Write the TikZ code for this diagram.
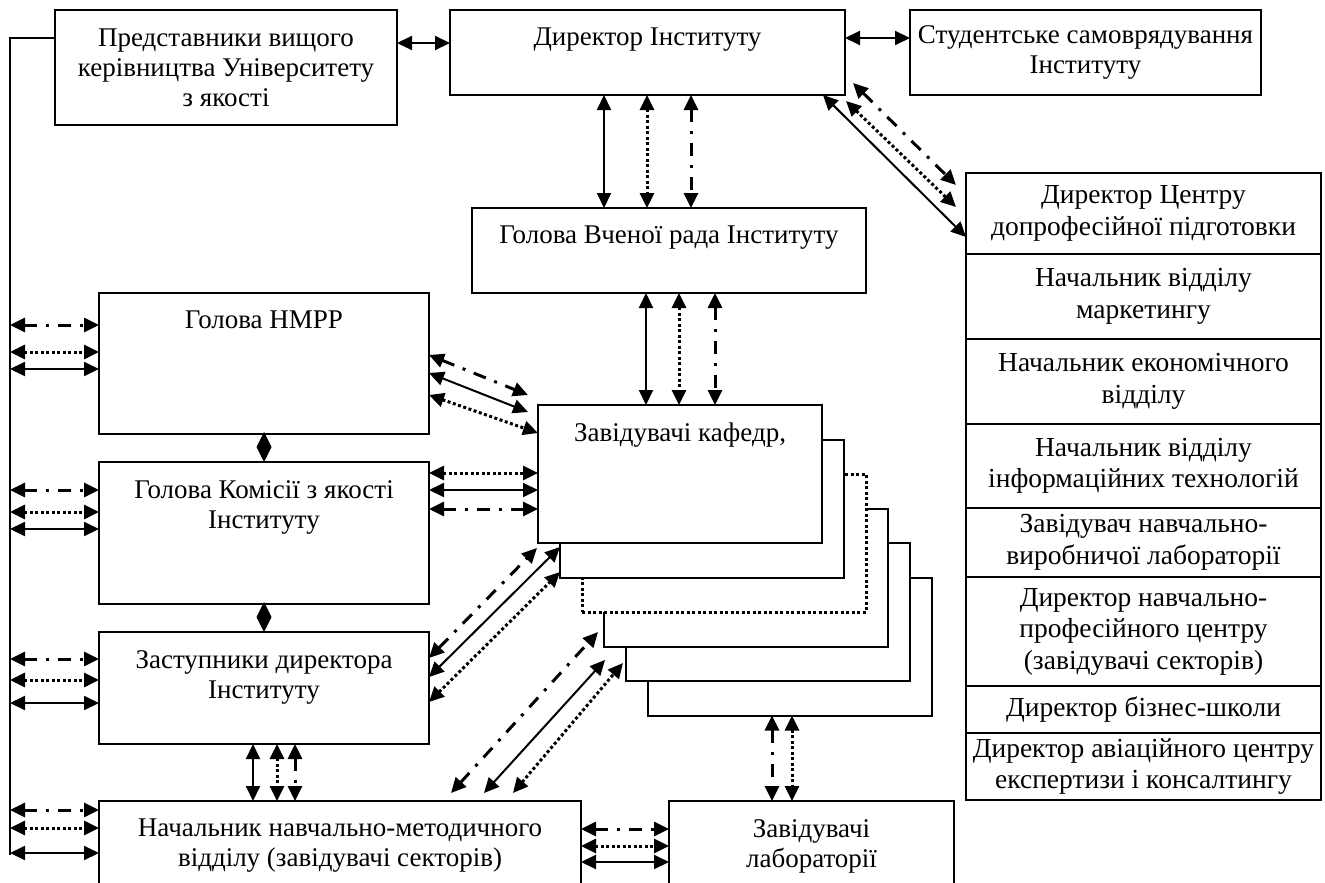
\documentclass[tikz,border=0pt]{standalone}
\usepackage{fontspec}
\setmainfont{Liberation Serif}
\usetikzlibrary{arrows.meta,positioning,calc}

\tikzset{
  box/.style={draw, line width=2pt, anchor=north west, inner sep=0pt, outer sep=0pt, align=center},
  hd/.style={label={[anchor=north, align=center, inner sep=0pt, yshift=-18pt]north:{#1}}},
  row/.style={draw, line width=2pt, minimum width=355pt, minimum height=#1, inner sep=0pt, outer sep=0pt, align=center, font=\fontsize{27.5}{31.5}\selectfont},
  kd/.style={line width=3pt, dash pattern=on 3pt off 2.5pt},
  arr/.style={{Triangle[length=15pt,width=14pt]}-{Triangle[length=15pt,width=14pt]}, line width=2pt},
  sl/.style={arr},
  dt/.style={arr, line width=3pt, dash pattern=on 3pt off 2.5pt},
  dd/.style={arr, line width=3pt, dash pattern=on 13pt off 9pt on 3pt off 9pt},
  dm/.style={-{Diamond[length=30pt,width=15pt]}, line width=1pt}
}

\begin{document}
\begin{tikzpicture}[x=1pt, y=-1pt, font=\fontsize{27}{30}\selectfont]
\useasboundingbox (0,0) rectangle (1325,883);
\clip (0,0) rectangle (1325,883);

\node[box, minimum width=342pt, minimum height=115pt] (pr) at (55,10)
  {Представники вищого\\керівництва Університету\\з якості};
\node[box, minimum width=395pt, minimum height=85pt, hd=Директор Інституту] (dir) at (450,10) {};
\node[box, minimum width=351pt, minimum height=85pt] (st) at (910,10)
  {Студентське самоврядування\\Інституту};
\node[box, minimum width=394pt, minimum height=85pt, hd=Голова Вченої рада Інституту] (gv) at (472,208) {};

\node[box, minimum width=330pt, minimum height=141pt, hd=Голова НМРР] (nm) at (99,293) {};
\node[box, minimum width=330pt, minimum height=142pt, hd={Голова Комісії з якості\\Інституту}] (ko) at (99,462) {};
\node[box, minimum width=330pt, minimum height=112pt, hd={Заступники директора\\Інституту}] (zd) at (99,632) {};
\node[box, minimum width=482pt, minimum height=110pt, hd={Начальник навчально-методичного\\відділу (завідувачі секторів)}] (nv) at (99,801) {};
\node[box, minimum width=285pt, minimum height=110pt, hd={Завідувачі\\лабораторії}] (zl) at (669,801) {};

\foreach \i/\s in {5/solid,4/solid,3/solid,2/kd,1/solid}
  \node[box, fill=white, \s, minimum width=284pt, minimum height=138pt] (k\i) at (538+22*\i,405+34.5*\i) {};
\node[box, fill=white, minimum width=284pt, minimum height=138pt, hd={Завідувачі кафедр,}] (k) at (538,405) {};

\node[row=81pt, anchor=north west] (c1) at (966,173) {Директор Центру\\допрофесійної підготовки};
\node[row=85pt, below=0pt of c1] (c2) {Начальник відділу\\маркетингу};
\node[row=85pt, below=0pt of c2] (c3) {Начальник економічного\\відділу};
\node[row=84pt, below=0pt of c3] (c4) {Начальник відділу\\інформаційних технологій};
\node[row=69pt, below=0pt of c4] (c5) {Завідувач навчально-\\виробничої лабораторії};
\node[row=109pt, below=0pt of c5] (c6) {Директор навчально-\\професійного центру\\(завідувачі секторів)};
\node[row=47pt, below=0pt of c6] (c7) {Директор бізнес-школи};
\node[row=67pt, below=0pt of c7] (c8) {Директор авіаційного центру\\експертизи і консалтингу};

\coordinate (bt) at (10,855);
\draw[line width=2pt] ($(pr.north west)+(0,28)$) -| (bt);

\draw[sl] ($(pr.north east)+(0,33)$) -- ($(dir.north west)+(0,33)$);
\draw[sl] ($(dir.north east)+(0,28)$) -- ($(st.north west)+(0,28)$);

\foreach \b/\p/\q/\r in {nm/32/59/76, ko/28/50/67, zd/27/48/71, nv/9/27/52}{
  \draw[dd] ($(bt |- \b.north west)+(0,\p)$) -- ($(\b.north west)+(0,\p)$);
  \draw[dt] ($(bt |- \b.north west)+(0,\q)$) -- ($(\b.north west)+(0,\q)$);
  \draw[sl] ($(bt |- \b.north west)+(0,\r)$) -- ($(\b.north west)+(0,\r)$);
}

\foreach \s/\o in {sl/154, dt/197, dd/241}
  \draw[\s] ($(dir.south west)+(\o,0)$) -- ($(dir.south west |- gv.north)+(\o,0)$);
\foreach \s/\o in {sl/174, dt/207, dd/243}
  \draw[\s] ($(gv.south west)+(\o,0)$) -- ($(gv.south west |- k.north)+(\o,0)$);

\draw[sl] ($(dir.south east)+(-22,0)$) -- ($(c1.north west)+(0,64)$);
\draw[dt] ($(dir.south east)+(1,6)$) -- ($(c1.north west)+(-10,34)$);
\draw[dd] ($(dir.south east)+(8,-12)$) -- ($(c1.north west)+(-10,12)$);

\draw[dd] ($(nm.north east)+(0,62)$) -- ($(k.north west)+(-10,-10)$);
\draw[sl] ($(nm.north east)+(0,80)$) -- ($(k.north west)+(-10,7)$);
\draw[dt] ($(nm.north east)+(0,102)$) -- ($(k.north west)+(0,28)$);

\draw[dt] ($(ko.north east)+(0,11)$) -- ($(k.north west)+(0,68)$);
\draw[sl] ($(ko.north east)+(0,28)$) -- ($(k.north west)+(0,85)$);
\draw[dd] ($(ko.north east)+(0,47)$) -- ($(k.north west)+(0,104)$);

\draw[dd] ($(zd.north east)+(0,26)$) -- ($(k1.north west)+(-23,108.5)$);
\draw[sl] ($(zd.north east)+(0,45)$) -- ($(k1.north west)+(0,107.5)$);
\draw[dt] ($(zd.north east)+(0,70)$) -- ($(k1.north west)+(0,132.5)$);

\draw[dd] ($(nv.north west)+(352,-8)$) -- ($(k4.north west)+(-28,89)$);
\draw[sl] ($(nv.north west)+(385,-8)$) -- ($(k4.north west)+(-21,117)$);
\draw[dt] ($(nv.north west)+(414,-8)$) -- ($(k4.north west)+(-3,120)$);

\foreach \s/\o in {sl/154, dt/178, dd/196}
  \draw[\s] ($(zd.south west)+(\o,0)$) -- ($(zd.south west |- nv.north)+(\o,0)$);

\foreach \s/\o in {dd/28, dt/45, sl/61}
  \draw[\s] ($(nv.north east)+(0,\o)$) -- ($(zl.north west)+(0,\o)$);

\foreach \s/\o in {dd/124, dt/144}
  \draw[\s] ($(k5.south west)+(\o,0)$) -- ($(k5.south west |- zl.north)+(\o,0)$);

\draw[dm] (nm.south) -- (ko.north);
\draw[dm] (ko.south) -- (zd.north);
\end{tikzpicture}
\end{document}
